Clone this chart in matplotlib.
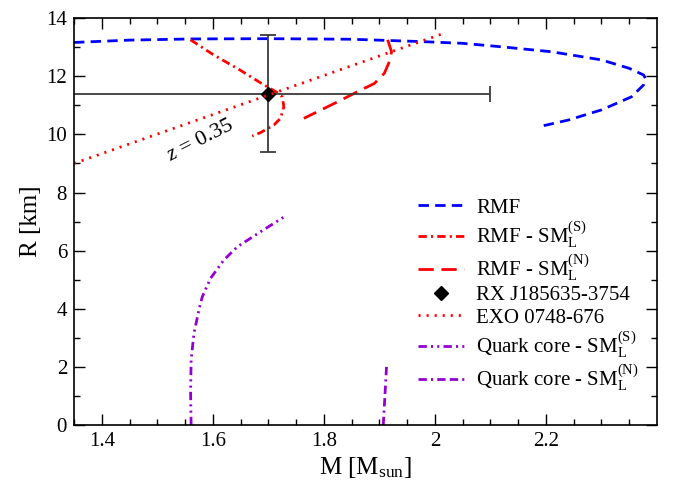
import numpy as np
import matplotlib
matplotlib.use("Agg")
import matplotlib.pyplot as plt
from matplotlib.ticker import MultipleLocator, FormatStrFormatter

plt.rcParams['font.family'] = 'Liberation Serif'
plt.rcParams['mathtext.fontset'] = 'custom'
plt.rcParams['mathtext.rm'] = 'Liberation Serif'
plt.rcParams['mathtext.it'] = 'Liberation Serif:italic'
plt.rcParams['lines.scale_dashes'] = False

# RMF (blue dashed)
rmf_m = [1.35, 1.45, 1.56, 1.70, 1.85, 1.975, 2.05, 2.12, 2.21, 2.30, 2.35, 2.376, 2.379, 2.376, 2.354, 2.30, 2.24, 2.187]
rmf_r = [13.16, 13.24, 13.28, 13.29, 13.27, 13.19, 13.13, 13.01, 12.84, 12.56, 12.27, 12.04, 11.93, 11.70, 11.29, 10.84, 10.49, 10.26]

# RMF - SM_L^(S) (red dash-dot)
sms_m = [1.56, 1.60, 1.65, 1.692, 1.715, 1.725, 1.728, 1.722, 1.71, 1.686, 1.671]
sms_r = [13.25, 12.75, 12.20, 11.70, 11.45, 11.29, 10.95, 10.55, 10.32, 10.06, 9.94]

# RMF - SM_L^(N) (red long dash)
smn_m = [1.915, 1.922, 1.918, 1.909, 1.891, 1.861, 1.825, 1.764]
smn_r = [13.25, 12.84, 12.50, 12.10, 11.75, 11.47, 11.12, 10.55]

# RX J185635-3754
rx_m, rx_r = 1.70, 11.40
rx_dm, rx_dr = 0.40, 2.00

# EXO 0748-676, z = 0.35
exo_m = [1.35, 2.02]
exo_r = [9.00, 13.50]

# Quark core - SM_L^(S)
qs_m = [1.561, 1.560, 1.561, 1.566, 1.575, 1.581, 1.596, 1.620, 1.644, 1.686, 1.729]
qs_r = [0.0, 1.09, 2.24, 3.15, 3.96, 4.41, 5.05, 5.68, 6.13, 6.65, 7.17]

# Quark core - SM_L^(N)
qn_m = [1.907, 1.910, 1.913]
qn_r = [0.0, 1.0, 2.05]

violet = '#9400d3'

fig = plt.figure(figsize=(6.85, 4.87), dpi=100)
ax = fig.add_axes([0.108, 0.127, 0.851, 0.836])

ax.plot(rmf_m, rmf_r, color='#0000ff', lw=2, dashes=(7.5, 4.5), label='RMF')
ax.plot(sms_m, sms_r, color='#ff0000', lw=2, dashes=(6, 3, 1.5, 3),
        label=r'RMF - SM$_\mathrm{L}^\mathrm{(S)}$')
ax.plot(smn_m, smn_r, color='#ff0000', lw=2, dashes=(11, 5.5),
        label=r'RMF - SM$_\mathrm{L}^\mathrm{(N)}$')
ax.errorbar(rx_m, rx_r, xerr=rx_dm, yerr=rx_dr, fmt='none', ecolor='#3a3a3a',
            elinewidth=1.3, capsize=6, capthick=1.3)
ax.plot(rx_m, rx_r, 'D', color='black', ms=7, ls='none', label='RX J185635-3754')
ax.plot(exo_m, exo_r, color='#ff0000', lw=2, dashes=(1.5, 4.3), label='EXO 0748-676')
ax.plot(qs_m, qs_r, color=violet, lw=2, dashes=(6, 3, 1.5, 3, 1.5, 3),
        label=r'Quark core - SM$_\mathrm{L}^\mathrm{(S)}$')
ax.plot(qn_m, qn_r, color=violet, lw=2, dashes=(6, 3, 1.5, 3, 6, 3),
        label=r'Quark core - SM$_\mathrm{L}^\mathrm{(N)}$')

ax.text(1.578, 9.77, r'$z$ = 0.35', fontsize=16, rotation=27,
        ha='center', va='center')

ax.set_xlim(1.35, 2.3999)
ax.set_ylim(0, 14)
ax.xaxis.set_major_locator(MultipleLocator(0.2))
ax.xaxis.set_minor_locator(MultipleLocator(0.05))
ax.yaxis.set_major_locator(MultipleLocator(2))
ax.yaxis.set_minor_locator(MultipleLocator(1))
ax.xaxis.set_major_formatter(FormatStrFormatter('%g'))
ax.tick_params(which='both', direction='in', top=True, right=True, labelsize=15)
ax.tick_params(which='major', length=8, width=1, pad=5)
ax.tick_params(which='minor', length=4.5, width=1)
for s in ax.spines.values():
    s.set_linewidth(1.2)

ax.set_xlabel(r'M [M$_\mathrm{sun}$]', fontsize=18, labelpad=3)
ax.set_ylabel('R [km]', fontsize=18, labelpad=3)

ax.legend(loc='upper left', bbox_to_anchor=(0.59, 0.558), frameon=False,
          fontsize=15, handlelength=2.2, handletextpad=0.6, labelspacing=0.12,
          borderpad=0, borderaxespad=0)

fig.savefig('out.png', dpi=100)
